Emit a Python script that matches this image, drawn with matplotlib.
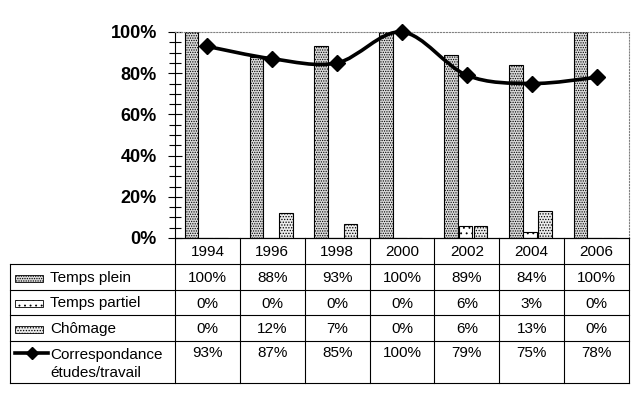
import matplotlib
matplotlib.use('Agg')
import matplotlib.pyplot as plt
import numpy as np
from matplotlib.path import Path
from matplotlib.patches import PathPatch, Rectangle
from matplotlib.ticker import MultipleLocator, PercentFormatter

plt.rcParams['font.family'] = ['Liberation Sans', 'DejaVu Sans']
plt.rcParams['hatch.linewidth'] = 0.6

# Chart data
years = ['1994', '1996', '1998', '2000', '2002', '2004', '2006']
temps_plein = [100, 88, 93, 100, 89, 84, 100]
temps_partiel = [0, 0, 0, 0, 6, 3, 0]
chomage = [0, 12, 7, 0, 6, 13, 0]
correspondance = [93, 87, 85, 100, 79, 75, 78]

series_labels = ['Temps plein', 'Temps partiel', 'Chômage',
                 'Correspondance\nétudes/travail']
bar_hatches = ['.......', '...', '......']
bar_faces = ['#dadada', 'white', '#ececec']

W, H = 640, 400
fig = plt.figure(figsize=(W / 100, H / 100), dpi=100)

# plot area in pixels
px_left, px_right, px_top, px_bottom = 175, 629, 32, 238
ax = fig.add_axes([px_left / W, 1 - px_bottom / H,
                   (px_right - px_left) / W, (px_bottom - px_top) / H])

n = len(years)
x = np.arange(n)
bar_w = 0.21
offsets = [-0.246, -0.023, 0.208]
for vals, off, hatch, fc in zip([temps_plein, temps_partiel, chomage], offsets,
                                bar_hatches, bar_faces):
    ax.bar(x + off, vals, width=bar_w, facecolor=fc, edgecolor='black',
           linewidth=0.8, hatch=hatch, zorder=2)

# smoothed line (bezier through the points, like Excel "smoothed line")
pts = np.column_stack([x, correspondance]).astype(float)
ext = np.vstack([pts[0], pts, pts[-1]])
verts = [tuple(pts[0])]
codes = [Path.MOVETO]
for i in range(n - 1):
    p0, p1, p2, p3 = ext[i], ext[i + 1], ext[i + 2], ext[i + 3]
    c1 = p1 + (p2 - p0) / 6.0
    c2 = p2 - (p3 - p1) / 6.0
    verts += [tuple(c1), tuple(c2), tuple(p2)]
    codes += [Path.CURVE4] * 3
ax.add_patch(PathPatch(Path(verts, codes), fill=False, edgecolor='black',
                       linewidth=2.6, zorder=3, clip_on=False))
ax.plot(x, correspondance, linestyle='none', marker='D', markersize=8.5,
        color='black', zorder=4, clip_on=False)

ax.set_xlim(-0.5, n - 0.5)
ax.set_ylim(0, 100)
ax.set_xticks([])
ax.yaxis.set_major_locator(MultipleLocator(20))
ax.yaxis.set_minor_locator(MultipleLocator(5))
ax.yaxis.set_major_formatter(PercentFormatter(decimals=0))
ax.tick_params(axis='y', which='major', direction='inout', length=10, width=0.8, pad=8)
ax.tick_params(axis='y', which='minor', direction='inout', length=8, width=0.8)
for lab in ax.get_yticklabels():
    lab.set_fontsize(13)
    lab.set_fontweight('bold')
for side in ['top', 'right']:
    ax.spines[side].set_linestyle(':')
    ax.spines[side].set_color('#808080')
    ax.spines[side].set_linewidth(0.8)
ax.spines['left'].set_linewidth(0.8)
ax.spines['bottom'].set_linewidth(0.8)

# data table under the chart, drawn on an overlay in pixel units
tab = fig.add_axes([0, 0, 1, 1])
tab.set_xlim(0, W)
tab.set_ylim(H, 0)
tab.axis('off')
tab.patch.set_alpha(0)

tbl_left = 10
col_w = (px_right - px_left) / n
row_lines = [px_bottom, 264, 290, 315, 341, 383]
lw = 0.8
fs = 11

tab.plot([px_left, px_right], [row_lines[0]] * 2, color='black', lw=lw)
for y in row_lines[1:]:
    tab.plot([tbl_left, px_right], [y, y], color='black', lw=lw)
tab.plot([tbl_left, tbl_left], [row_lines[1], row_lines[-1]], color='black', lw=lw)
for j in range(n + 1):
    xc = px_left + j * col_w
    tab.plot([xc, xc], [row_lines[0], row_lines[-1]], color='black', lw=lw)

for j, yr in enumerate(years):
    tab.text(px_left + (j + 0.5) * col_w, (row_lines[0] + row_lines[1]) / 2 + 1, yr,
             ha='center', va='center', fontsize=fs)

rows = [temps_plein, temps_partiel, chomage, correspondance]
for r, vals in enumerate(rows):
    y0, y1 = row_lines[r + 1], row_lines[r + 2]
    ytxt = (y0 + y1) / 2 + 1 if r < 3 else y0 + 12
    for j, v in enumerate(vals):
        tab.text(px_left + (j + 0.5) * col_w, ytxt, f'{v}%',
                 ha='center', va='center', fontsize=fs)
    # legend key
    if r < 3:
        tab.add_patch(Rectangle((15, ytxt - 3.5), 28, 7, facecolor=bar_faces[r],
                                edgecolor='black', lw=0.6, hatch=bar_hatches[r]))
        tab.text(50, ytxt, series_labels[r], ha='left', va='center', fontsize=fs)
    else:
        tab.plot([15, 48], [ytxt, ytxt], color='black', lw=2.6)
        tab.plot([31.5], [ytxt], marker='D', markersize=6, color='black')
        tab.text(50, y0 + 7, series_labels[r], ha='left', va='top', fontsize=fs,
                 linespacing=1.35)

fig.savefig('out.png', dpi=100)
